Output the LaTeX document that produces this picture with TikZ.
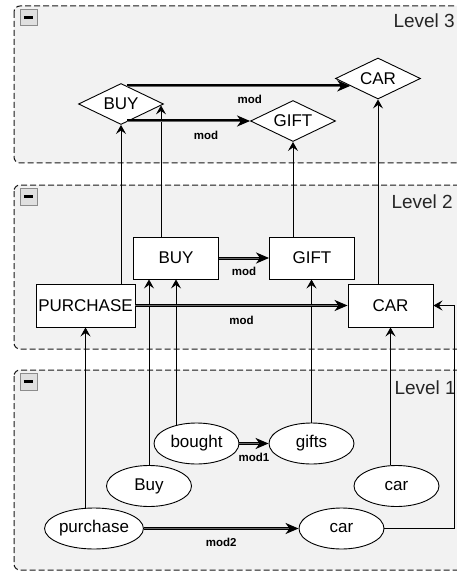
\documentclass[tikz,border=0pt]{standalone}
\usepackage{fontspec}
\setmainfont{Liberation Sans}
\usetikzlibrary{shapes.geometric,arrows.meta,calc}
\newcommand\nodefnt{\fontsize{17}{20}\selectfont}
\begin{document}
\begin{tikzpicture}[x=1pt,y=-1pt,
  cont/.style={draw=black!90, dash pattern=on 6pt off 3pt, fill=black!5, rounded corners=6pt, line width=1pt},
  rbox/.style={draw, line width=0.9pt, fill=white, minimum width=85pt, minimum height=42pt, inner sep=0pt, font=\nodefnt},
  dia/.style={diamond, shape aspect=2, draw, line width=0.9pt, fill=white, minimum width=85pt, minimum height=41pt, inner sep=0pt, font=\nodefnt},
  ell/.style={ellipse, draw, line width=0.9pt, fill=white, minimum width=85pt, minimum height=41pt, inner sep=0pt, font=\nodefnt},
  thinarr/.style={draw, line width=0.9pt, -{Stealth[length=9pt,width=10pt,inset=3.5pt]}},
  modarr/.style={line width=3pt, -{Stealth[length=13pt,width=11pt,inset=4pt]}, postaction={draw=black!60, line width=0.8pt, shorten >=10pt, -}},
  lbl/.style={font=\bfseries\fontsize{11.5}{13}\selectfont, inner sep=0pt},
  lvl/.style={font=\fontsize{19}{22}\selectfont, text=black!85, anchor=base east, inner sep=0pt},
  icon/.style={draw=black!45, fill=black!12, minimum size=16.5pt, inner sep=0pt, anchor=north west}
]
\useasboundingbox (0,0) rectangle (457,572);
\fill[white] (0,0) rectangle (457,572);
\clip (0,0) rectangle (457,572);

% containers
\draw[cont] (14,6) rectangle (480,163);
\draw[cont] (14,185) rectangle (480,349);
\draw[cont] (14,370) rectangle (480,570);

\node[icon] (i3) at (20,9) {\rule{9pt}{2.6pt}};
\node[icon] (i2) at (20,188) {\rule{9pt}{2.6pt}};
\node[icon] (i1) at (20,373) {\rule{9pt}{2.6pt}};

\node[lvl] (l3) at (455,28) {Level 3};
\node[lvl] (l2) at (453,208) {Level 2};
\node[lvl] (l1) at (456,394) {Level 1};

% level 3
\node[dia] (d3buy) at (121,104) {BUY};
\node[dia] (d3gift) at (293,121) {GIFT};
\node[dia] (d3car) at (378,78.5) {CAR};

% level 2
\node[rbox] (b2) at (176,258) {BUY};
\node[rbox] (g2) at (312,258) {GIFT};
\node[rbox, minimum width=99pt, minimum height=43pt] (p2) at (85.5,305.5) {PURCHASE};
\node[rbox, minimum height=43pt] (c2) at (390.5,305.5) {CAR};

% level 1
\node[ell] (bought) at (196.5,443.5) {bought};
\node[ell] (gifts) at (311.5,443.5) {gifts};
\node[ell] (buy1) at (149,486) {Buy};
\node[ell] (car1) at (396.5,486) {car};
\node[ell] (purch1) at (94,528.5) {purchase};
\node[ell] (car0) at (341.5,528.5) {car};
\coordinate (rt) at (454.5,528.5);

% thin connectors
\draw[thinarr] (p2.north -| d3buy.south) -- (d3buy.south);
\draw[thinarr] ([xshift=-15pt]b2.north) -- ([xshift=-15pt]b2.north |- d3buy.-2);
\draw[thinarr] (g2.north -| d3gift.south) -- (d3gift.south);
\draw[thinarr] (c2.north -| d3car.south) -- (d3car.south);
\draw[thinarr] (p2.south |- purch1.north) -- (p2.south);
\draw[thinarr] (buy1.north) -- (buy1.north |- b2.south);
\draw[thinarr] (b2.south |- bought.139) -- (b2.south);
\draw[thinarr] (gifts.north) -- (gifts.north |- g2.south);
\draw[thinarr] (c2.south |- car1.north) -- (c2.south);
\draw[thinarr] (car0.east) -- (rt) |- (c2.east);

% mod connectors
\draw[modarr] (d3buy.72) -- (d3buy.72 -| d3car.195) node[lbl, pos=0.55, yshift=-13pt] (m1) {mod};
\draw[modarr] (d3buy.-70 |- d3gift.west) -- (d3gift.west) node[lbl, pos=0.64, yshift=-14pt] (m2) {mod};
\draw[modarr] (b2.east) -- (g2.west) node[lbl, midway, yshift=-13pt] (m3) {mod};
\draw[modarr] (p2.east) -- (c2.west) node[lbl, midway, yshift=-15pt] (m4) {mod};
\draw[modarr] (bought.east) -- (gifts.west) node[lbl, midway, yshift=-14pt] (m5) {mod1};
\draw[modarr] (purch1.east) -- (car0.west) node[lbl, midway, yshift=-14pt] (m6) {mod2};
\end{tikzpicture}
\end{document}
